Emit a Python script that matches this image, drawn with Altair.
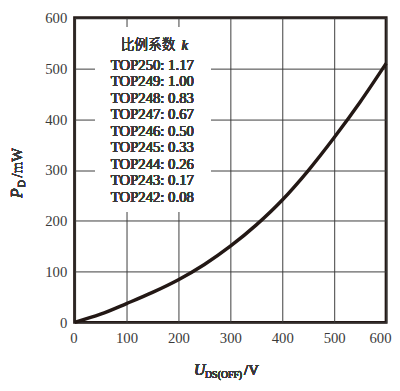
import altair as alt
import pandas as pd

# Curve data
u_ds = [0, 50, 100, 150, 200, 250, 300, 350, 400, 450, 500, 550, 600]
p_d = [0, 16, 37, 59, 84, 114, 150, 192, 241, 299, 364, 434, 510]

x_ticks = [0, 100, 200, 300, 400, 500, 600]
y_ticks = [0, 100, 200, 300, 400, 500, 600]

models = ["TOP250", "TOP249", "TOP248", "TOP247", "TOP246", "TOP245", "TOP244", "TOP243", "TOP242"]
k_values = ["1.17", "1.00", "0.83", "0.67", "0.50", "0.33", "0.26", "0.17", "0.08"]

legend_lines = [f"{m}:  {k}" for m, k in zip(models, k_values)]

df = pd.DataFrame({"u": u_ds, "p": p_d})

SERIF = "Liberation Serif"
CJK = "Noto Sans CJK SC"
INK = "#231815"
TXT = "#3a3a3a"

xs = alt.Scale(domain=[0, 600], nice=False, zero=False)
ys = alt.Scale(domain=[0, 600], nice=False, zero=False)

x_axis = alt.Axis(values=x_ticks, title=None, grid=True, gridColor="#3a3a3a", gridWidth=1,
                  domain=False, ticks=False, labelFont=SERIF, labelFontSize=15,
                  labelFontWeight="normal", labelColor=TXT, labelPadding=9,
                  labelFlush=True, labelFlushOffset=5)
y_axis = alt.Axis(values=y_ticks, title=None, grid=True, gridColor="#3a3a3a", gridWidth=1,
                  domain=False, ticks=False, labelFont=SERIF, labelFontSize=15,
                  labelFontWeight="normal", labelColor=TXT, labelPadding=8, labelFlush=False)

line = alt.Chart(df).mark_line(color=INK, strokeWidth=3.5, interpolate="monotone").encode(
    x=alt.X("u:Q", scale=xs, axis=x_axis),
    y=alt.Y("p:Q", scale=ys, axis=y_axis),
)

# white box behind the legend text (hides the grid there)
box = alt.Chart(df).mark_rect(color="white").encode(
    x=alt.value(21), x2=alt.value(139), y=alt.value(10), y2=alt.value(198)
)


def txt(text, x, y, size=15, font=SERIF, italic=False, angle=0, align="left",
        baseline="middle", weight="normal", **kw):
    props = dict(font=font, fontSize=size, fontWeight=weight, align=align,
                 baseline=baseline, color=TXT, **kw)
    if italic:
        props["fontStyle"] = "italic"
    if angle:
        props["angle"] = angle
    return alt.Chart(df).mark_text(**props).encode(
        x=alt.value(x), y=alt.value(y), text=alt.value(text))


legend = txt(legend_lines, 37, 41, baseline="top", lineHeight=16.9)
head_cn = txt("比例系数", 47, 28, size=14, font=CJK, weight=300)
head_k = txt("k", 109, 28, italic=True)

# y title pieces (rotated)
yt_p = txt("P", -59, 184, size=16, italic=True, angle=270)
yt_d = txt("D", -54, 173, size=10, angle=270)
yt_u = txt("/mW", -59, 163, angle=270)

# x title pieces
xt_u = txt("U", 122, 365, size=16, italic=True, baseline="alphabetic")
xt_ds = txt("DS", 133, 368, size=10, baseline="alphabetic")
xt_off = txt("(OFF)", 146, 368, size=10, baseline="alphabetic")
xt_v = txt("/V", 173, 365, baseline="alphabetic")

chart = alt.layer(
    box, line, legend, head_cn, head_k, yt_p, yt_d, yt_u, xt_u, xt_ds, xt_off, xt_v
).properties(
    width=318, height=311,
    autosize=alt.AutoSizeParams(type="none"),
    padding={"left": 68, "top": 6, "right": 6, "bottom": 58},
    background="white",
).configure_view(
    stroke=INK, strokeWidth=3
)

chart.save("out.html", embed_options={"renderer": "svg", "actions": False})
